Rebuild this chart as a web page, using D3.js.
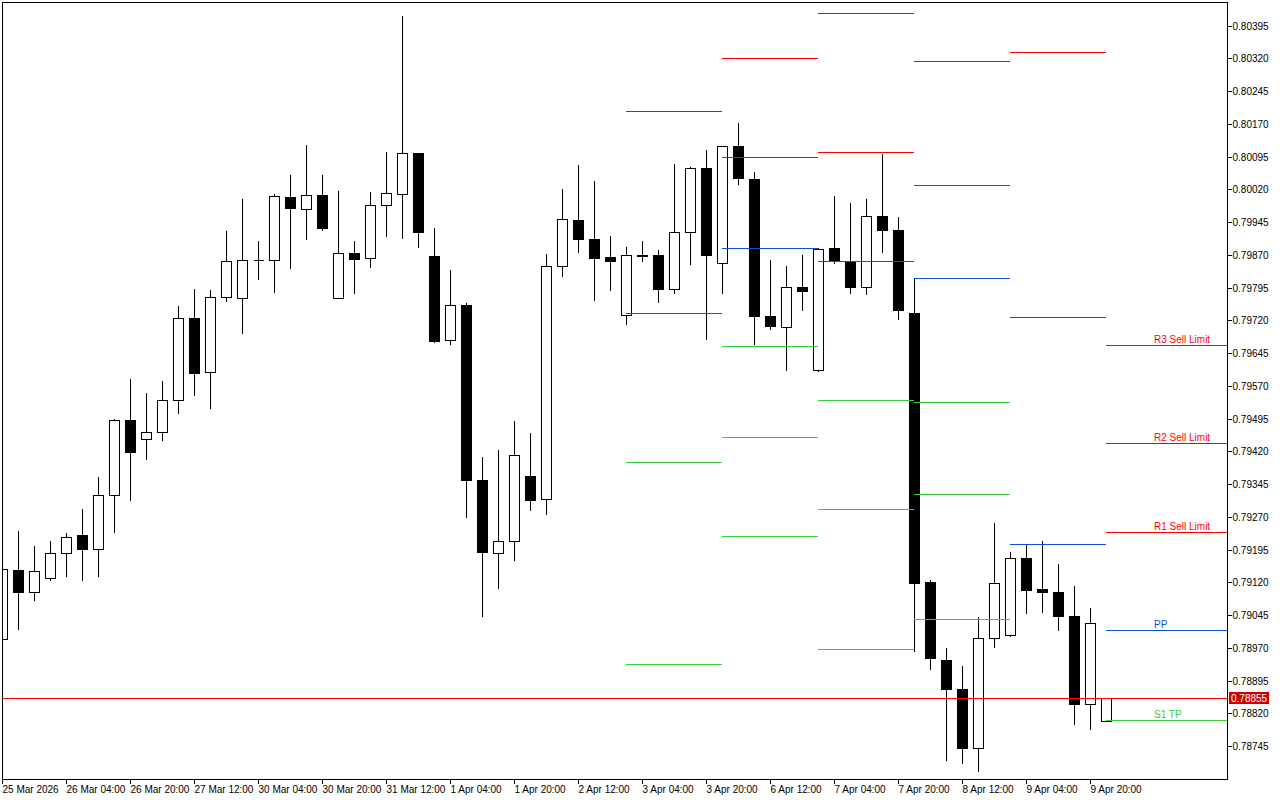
<!DOCTYPE html>
<html>
<head>
<meta charset="utf-8">
<script src="https://cdn.jsdelivr.net/npm/d3@7"></script>
<style>
  html, body { margin: 0; padding: 0; background: #ffffff; }
  svg { display: block; }
  text { font-family: "Liberation Sans", Arial, sans-serif; font-size: 10px; }
</style>
</head>
<body>
<svg id="chart" width="1280" height="800"></svg>
<script>
// ---------------- DATA ----------------
const times = [
  "2026-03-25 12:00","2026-03-25 16:00","2026-03-25 20:00",
  "2026-03-26 00:00","2026-03-26 04:00","2026-03-26 08:00","2026-03-26 12:00","2026-03-26 16:00","2026-03-26 20:00",
  "2026-03-27 00:00","2026-03-27 04:00","2026-03-27 08:00","2026-03-27 12:00","2026-03-27 16:00","2026-03-27 20:00",
  "2026-03-30 00:00","2026-03-30 04:00","2026-03-30 08:00","2026-03-30 12:00","2026-03-30 16:00","2026-03-30 20:00",
  "2026-03-31 00:00","2026-03-31 04:00","2026-03-31 08:00","2026-03-31 12:00","2026-03-31 16:00","2026-03-31 20:00",
  "2026-04-01 00:00","2026-04-01 04:00","2026-04-01 08:00","2026-04-01 12:00","2026-04-01 16:00","2026-04-01 20:00",
  "2026-04-02 00:00","2026-04-02 04:00","2026-04-02 08:00","2026-04-02 12:00","2026-04-02 16:00","2026-04-02 20:00",
  "2026-04-03 00:00","2026-04-03 04:00","2026-04-03 08:00","2026-04-03 12:00","2026-04-03 16:00","2026-04-03 20:00",
  "2026-04-06 00:00","2026-04-06 04:00","2026-04-06 08:00","2026-04-06 12:00","2026-04-06 16:00","2026-04-06 20:00",
  "2026-04-07 00:00","2026-04-07 04:00","2026-04-07 08:00","2026-04-07 12:00","2026-04-07 16:00","2026-04-07 20:00",
  "2026-04-08 00:00","2026-04-08 04:00","2026-04-08 08:00","2026-04-08 12:00","2026-04-08 16:00","2026-04-08 20:00",
  "2026-04-09 00:00","2026-04-09 04:00","2026-04-09 08:00","2026-04-09 12:00","2026-04-09 16:00","2026-04-09 20:00",
  "2026-04-10 00:00"
];

const open = [
  0.78990,0.79148,0.79098,0.79130,0.79187,0.79229,0.79196,0.79320,0.79492,0.79448,
  0.79465,0.79538,0.79726,0.79601,0.79773,0.79771,0.79858,0.79858,0.80003,0.79975,
  0.80007,0.79771,0.79874,0.79862,0.79984,0.80009,0.80103,0.79867,0.79675,0.79755,
  0.79354,0.79188,0.79214,0.79363,0.79311,0.79844,0.79950,0.79907,0.79865,0.79732,
  0.79869,0.79869,0.79791,0.79923,0.80068,0.79851,0.80120,0.80043,0.79730,0.79705,
  0.79797,0.79606,0.79886,0.79855,0.79796,0.79959,0.79927,0.79736,0.79122,0.78943,
  0.78876,0.78741,0.78993,0.79000,0.79176,0.79104,0.79099,0.79044,0.78842,0.78803
];
const high = [
  0.79152,0.79239,0.79206,0.79218,0.79235,0.79291,0.79364,0.79497,0.79587,0.79557,
  0.79584,0.79754,0.79795,0.79791,0.79926,0.80001,0.79905,0.80012,0.80054,0.80123,
  0.80056,0.80019,0.79905,0.80017,0.80108,0.80418,0.80106,0.79934,0.79838,0.79761,
  0.79410,0.79426,0.79492,0.79464,0.79874,0.80024,0.80079,0.80042,0.79915,0.79891,
  0.79905,0.79884,0.80081,0.80073,0.80113,0.80122,0.80175,0.80062,0.79861,0.79847,
  0.79872,0.79888,0.80006,0.79990,0.80001,0.80104,0.79958,0.79817,0.79127,0.78973,
  0.78932,0.79042,0.79259,0.79191,0.79208,0.79216,0.79165,0.79115,0.79063,0.78855
];
const low = [
  0.78988,0.79014,0.79080,0.79125,0.79134,0.79125,0.79134,0.79235,0.79309,0.79402,
  0.79445,0.79508,0.79549,0.79519,0.79764,0.79691,0.79814,0.79785,0.79839,0.79907,
  0.79927,0.79771,0.79783,0.79842,0.79913,0.79909,0.79889,0.79670,0.79665,0.79270,
  0.79043,0.79107,0.79171,0.79286,0.79277,0.79821,0.79876,0.79767,0.79789,0.79712,
  0.79855,0.79762,0.79783,0.79848,0.79678,0.79783,0.80032,0.79665,0.79700,0.79606,
  0.79744,0.79605,0.79851,0.79783,0.79780,0.79876,0.79723,0.78963,0.78921,0.78713,
  0.78706,0.78688,0.78972,0.78997,0.79049,0.79053,0.79011,0.78795,0.78784,0.78803
];
const close = [
  0.79150,0.79098,0.79146,0.79187,0.79223,0.79196,0.79320,0.79492,0.79418,0.79465,
  0.79538,0.79726,0.79599,0.79773,0.79855,0.79858,0.79857,0.80005,0.79977,0.80007,
  0.79932,0.79874,0.79860,0.79984,0.80012,0.80103,0.79923,0.79672,0.79755,0.79354,
  0.79189,0.79214,0.79411,0.79309,0.79844,0.79952,0.79907,0.79862,0.79855,0.79869,
  0.79868,0.79791,0.79923,0.80068,0.79869,0.80120,0.80046,0.79730,0.79707,0.79796,
  0.79787,0.79884,0.79858,0.79796,0.79959,0.79927,0.79744,0.79118,0.78946,0.78876,
  0.78740,0.78993,0.79119,0.79176,0.79102,0.79097,0.79043,0.78841,0.79027,0.78855
];

// daily pivot levels (one entry per day segment; null = off chart / not shown)
const pivotStart = ["2026-04-03 00:00","2026-04-06 00:00","2026-04-07 00:00","2026-04-08 00:00","2026-04-09 00:00","2026-04-10 00:00"];
const r3Levels = [null,    null,    null,    null,    null,    0.79664];
const r2Levels = [null,    0.80321, 0.80424, 0.80314, 0.80335, 0.79440];
const r1Levels = [0.80200, 0.80094, 0.80105, 0.80029, 0.79727, 0.79235];
const ppLevels = [0.79737, 0.79885, 0.79856, 0.79817, 0.79207, 0.79010];
const s1Levels = [0.79395, 0.79661, 0.79538, 0.79534, null,    0.78804];
const s2Levels = [0.78933, 0.79453, 0.79288, 0.79323, null,    null];
const s3Levels = [null,    0.79227, 0.78967, 0.79037, null,    null];
const currentLabels = {R3: "R3 Sell Limit", R2: "R2 Sell Limit", R1: "R1 Sell Limit", PP: "PP", S1: "S1 TP"};

const currentPrice = 0.78855;

const priceTicks = [0.80395,0.80320,0.80245,0.80170,0.80095,0.80020,0.79945,0.79870,0.79795,0.79720,
  0.79645,0.79570,0.79495,0.79420,0.79345,0.79270,0.79195,0.79120,0.79045,0.78970,0.78895,0.78820,0.78745];
const timeTicks = ["2026-03-25 12:00","2026-03-26 04:00","2026-03-26 20:00","2026-03-27 12:00","2026-03-30 04:00",
  "2026-03-30 20:00","2026-03-31 12:00","2026-04-01 04:00","2026-04-01 20:00","2026-04-02 12:00","2026-04-03 04:00",
  "2026-04-03 20:00","2026-04-06 12:00","2026-04-07 04:00","2026-04-07 20:00","2026-04-08 12:00","2026-04-09 04:00",
  "2026-04-09 20:00"];

// ---------------- LAYOUT ----------------
const plot = {left: 2, top: 2, right: 1227, bottom: 779};
const RED = "#ff0000", BLUE = "#0a50d8", GREEN = "#36cc36";

const svg = d3.select("#chart");
svg.append("rect").attr("width", 1280).attr("height", 800).attr("fill", "#fff");

const x = d3.scalePoint().domain(times).range([2.5, 1106.5]);
const y = d3.scaleLinear().domain([0.80395, 0.78745]).range([26, 746.7]);
const py = v => Math.floor(y(v)) + 0.5;

svg.append("defs").append("clipPath").attr("id", "clip")
  .append("rect").attr("x", plot.left).attr("y", plot.top)
  .attr("width", plot.right - plot.left).attr("height", plot.bottom - plot.top);

const g = svg.append("g").attr("clip-path", "url(#clip)").attr("shape-rendering", "crispEdges");

const bars = times.map((t, i) => ({t, o: open[i], h: high[i], l: low[i], c: close[i]}));

// wicks
g.selectAll("line.wick").data(bars).join("line")
  .attr("class", "wick")
  .attr("x1", d => x(d.t)).attr("x2", d => x(d.t))
  .attr("y1", d => py(d.h)).attr("y2", d => py(d.l))
  .attr("stroke", "#000").attr("stroke-width", 1);

// bodies
bars.forEach(d => {
  const top = py(Math.max(d.o, d.c)), bot = py(Math.min(d.o, d.c));
  const cx = x(d.t);
  if (bot - top < 1) {
    g.append("line").attr("x1", cx - 5).attr("x2", cx + 5)
      .attr("y1", top).attr("y2", top).attr("stroke", "#000").attr("stroke-width", 1);
  } else {
    g.append("rect").attr("x", cx - 5).attr("y", top)
      .attr("width", 10).attr("height", bot - top)
      .attr("fill", d.c >= d.o ? "#fff" : "#000")
      .attr("stroke", "#000").attr("stroke-width", 1);
  }
});

// pivot level segments
const levelSets = [
  {key: "R3", vals: r3Levels, color: RED},
  {key: "R2", vals: r2Levels, color: RED},
  {key: "R1", vals: r1Levels, color: RED},
  {key: "PP", vals: ppLevels, color: BLUE},
  {key: "S1", vals: s1Levels, color: GREEN},
  {key: "S2", vals: s2Levels, color: GREEN},
  {key: "S3", vals: s3Levels, color: GREEN}
];
levelSets.forEach(set => {
  set.vals.forEach((v, k) => {
    if (v == null) return;
    const x1 = x(pivotStart[k]) - 0.5;
    const x2 = k + 1 < pivotStart.length ? x(pivotStart[k + 1]) - 0.5 : plot.right;
    g.append("line").attr("x1", x1).attr("x2", x2)
      .attr("y1", py(v)).attr("y2", py(v))
      .attr("stroke", set.color).attr("stroke-width", 1);
    if (k === pivotStart.length - 1 && currentLabels[set.key]) {
      svg.append("text").attr("x", x1 + 48).attr("y", py(v) - 2.5)
        .attr("fill", set.color).text(currentLabels[set.key]);
    }
  });
});

// current price line
g.append("line").attr("x1", plot.left).attr("x2", plot.right)
  .attr("y1", py(currentPrice)).attr("y2", py(currentPrice))
  .attr("stroke", RED).attr("stroke-width", 1);

// frame
svg.append("rect").attr("x", plot.left + 0.5).attr("y", plot.top + 0.5)
  .attr("width", plot.right - plot.left).attr("height", plot.bottom - plot.top)
  .attr("fill", "none").attr("stroke", "#000").attr("stroke-width", 1)
  .attr("shape-rendering", "crispEdges");

// price axis
const yAxis = d3.axisRight(y).tickValues(priceTicks).tickSize(4).tickPadding(1)
  .tickFormat(d3.format(".5f"));
const ya = svg.append("g").attr("transform", `translate(${plot.right + 0.5},0)`)
  .attr("shape-rendering", "crispEdges").call(yAxis);
ya.select(".domain").remove();
ya.selectAll(".tick line").attr("stroke", "#000");
ya.selectAll(".tick text").attr("font-family", "Liberation Sans, Arial, sans-serif")
  .attr("font-size", 10).attr("fill", "#000");
ya.selectAll(".tick").attr("transform", d => `translate(0,${py(d)})`);

// current price tag
const cpY = py(currentPrice);
svg.append("rect").attr("x", 1229).attr("y", cpY - 6.5).attr("width", 40).attr("height", 12)
  .attr("fill", "#cc0000");
svg.append("text").attr("x", 1231).attr("y", cpY + 3.5).attr("fill", "#fff").text(d3.format(".5f")(currentPrice));

// time axis
const parse = d3.timeParse("%Y-%m-%d %H:%M");
const fmtFirst = d3.timeFormat("%-d %b %Y");
const fmtOther = d3.timeFormat("%-d %b %H:%M");
const xAxis = d3.axisBottom(x).tickValues(timeTicks).tickSize(4).tickPadding(2)
  .tickFormat((d, i) => i === 0 ? fmtFirst(parse(d)) : fmtOther(parse(d)));
const xa = svg.append("g").attr("transform", `translate(-0.5,${plot.bottom + 0.5})`)
  .attr("shape-rendering", "crispEdges").call(xAxis);
xa.select(".domain").remove();
xa.selectAll(".tick line").attr("stroke", "#000");
xa.selectAll(".tick text").attr("text-anchor", "start").attr("dx", 0)
  .attr("font-family", "Liberation Sans, Arial, sans-serif").attr("font-size", 9.4).attr("fill", "#000");
</script>
</body>
</html>
